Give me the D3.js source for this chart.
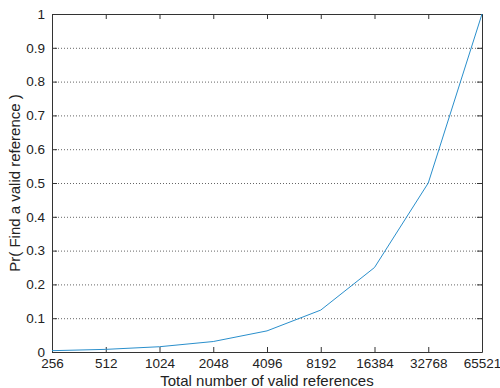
<!DOCTYPE html>
<html>
<head>
<meta charset="utf-8">
<script src="https://cdn.jsdelivr.net/npm/d3@7"></script>
<style>
  body { margin: 0; background: #fff; }
  text { font-family: "Liberation Sans", Arial, sans-serif; fill: #222; }
</style>
</head>
<body>
<div id="chart"></div>
<script>
let categories = ["256", "512", "1024", "2048", "4096", "8192", "16384", "32768", "65521"];
let values = [0.0039, 0.0078, 0.0156, 0.031, 0.0625, 0.124, 0.25, 0.5, 1];
let yTicks = [0, 0.1, 0.2, 0.3, 0.4, 0.5, 0.6, 0.7, 0.8, 0.9, 1];

let width = 500, height = 388;
let margin = {top: 14, right: 18, bottom: 36, left: 52};
let w = width - margin.left - margin.right,
    h = height - margin.top - margin.bottom;

let svg = d3.select("#chart")
  .append("svg")
    .attr("width", width)
    .attr("height", height)
  .append("g")
    .attr("transform", translate(margin.left, margin.top));

let x = d3.scalePoint().domain(categories).range([0, w]);
let y = d3.scaleLinear().domain([0, 1]).range([h, 0]);

// dotted grid
svg.selectAll(".grid")
  .data(yTicks.slice(1, -1))
  .enter().append("line")
    .attr("x1", 0).attr("x2", w)
    .attr("y1", d => y(d) + 0.5).attr("y2", d => y(d) + 0.5)
    .attr("stroke", "#666")
    .attr("stroke-width", 1)
    .attr("stroke-dasharray", "1,2");

// axes, ticks pointing inward
let fmt = d => d === 0 || d === 1 ? String(d) : d.toFixed(1);

let axBottom = svg.append("g").attr("transform", translate(0, h))
  .call(d3.axisBottom(x).tickSizeInner(-5).tickSizeOuter(0).tickPadding(6));
let axTop = svg.append("g")
  .call(d3.axisTop(x).tickSizeInner(-5).tickSizeOuter(0).tickFormat(""));
let axLeft = svg.append("g")
  .call(d3.axisLeft(y).tickValues(yTicks).tickFormat(fmt).tickSizeInner(-5).tickSizeOuter(0).tickPadding(7));
let axRight = svg.append("g").attr("transform", translate(w, 0))
  .call(d3.axisRight(y).tickValues(yTicks).tickFormat("").tickSizeInner(-5).tickSizeOuter(0));

[axBottom, axTop, axLeft, axRight].forEach(function(g) {
  g.selectAll("path, line").attr("stroke", "#333");
  g.selectAll("text").style("font-size", "13.5px").attr("fill", "#222");
});

// line
svg.append("path")
  .datum(values)
  .attr("fill", "none")
  .attr("stroke", "#2a8fcc")
  .attr("stroke-width", 1)
  .attr("d", d3.line()
    .x((d, i) => x(categories[i]))
    .y(d => y(d)));

// axis titles
svg.append("text")
  .attr("x", w / 2)
  .attr("y", h + 34)
  .attr("text-anchor", "middle")
  .style("font-size", "15px")
  .text("Total number of valid references");

svg.append("text")
  .attr("transform", translate(-32, h / 2) + " rotate(-90)")
  .attr("text-anchor", "middle")
  .style("font-size", "15px")
  .text("Pr( Find a valid reference )");

function translate(x, y = 0) {
  return "translate({x}, {y})".replace("{x}", x).replace("{y}", y);
}
</script>
</body>
</html>
